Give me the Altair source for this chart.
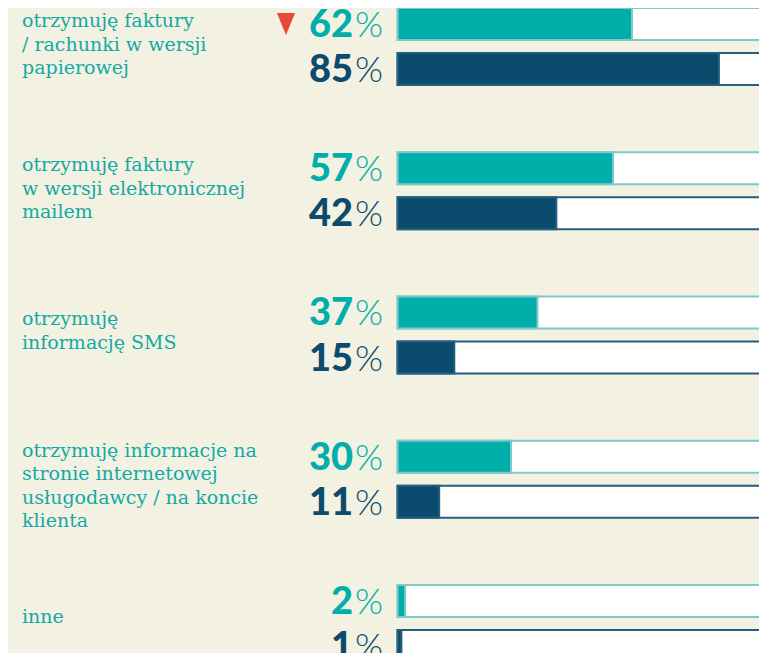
import altair as alt
import pandas as pd

categories = [
    "otrzymuję faktury\n/ rachunki w wersji\npapierowej",
    "otrzymuję faktury\nw wersji elektronicznej\nmailem",
    "otrzymuję\ninformację SMS",
    "otrzymuję informacje na\nstronie internetowej\nusługodawcy / na koncie\nklienta",
    "inne",
]
series = ["seria 1", "seria 2"]
values_1 = [62, 57, 37, 30, 2]
values_2 = [85, 42, 15, 11, 1]
down_marker_1 = [True, False, False, False, False]

rows = []
for i, c in enumerate(categories):
    for s, vals in zip(series, [values_1, values_2]):
        rows.append({
            "cat": c, "ser": s, "val": vals[i], "full": 100,
            "num": str(vals[i]), "pct": "%",
            "down": bool(down_marker_1[i]) and s == series[0],
            "first": s == series[0],
            "nlines": c.count("\n") + 1,
        })
df = pd.DataFrame(rows)

teal = "#00aeaa"
navy = "#0b4c6e"
teal_line = "#80c9c6"
navy_line = "#245f7d"
teal_text = "#12aaa5"
navy_text = "#0d4b6c"
bg = "#f3f1e1"

yscale = alt.Scale(domain=categories, range=[0, 654], paddingInner=0.4653, paddingOuter=0)
y = alt.Y("cat:N", sort=categories, axis=None, scale=yscale)
yoff = alt.YOffset("ser:N", sort=series, scale=alt.Scale(domain=series, paddingInner=0.2889, paddingOuter=0))
xscale = alt.Scale(domain=[0, 100], range=[389.6, 767.6])
text_color = alt.Color("ser:N", scale=alt.Scale(domain=series, range=[teal, navy_text]), legend=None)

base = alt.Chart(df)

bg_bars = base.mark_bar(fill="white", strokeWidth=2, clip=True).encode(
    x=alt.X("full:Q", scale=xscale, axis=None),
    y=y, yOffset=yoff,
    stroke=alt.Stroke("ser:N", scale=alt.Scale(domain=series, range=[teal_line, navy_line]), legend=None),
)

val_bars = base.mark_bar(strokeWidth=2, clip=True).encode(
    x=alt.X("val:Q", scale=xscale, axis=None),
    y=y, yOffset=yoff,
    fill=alt.Fill("ser:N", scale=alt.Scale(domain=series, range=[teal, navy]), legend=None),
    stroke=alt.Stroke("ser:N", scale=alt.Scale(domain=series, range=[teal, navy]), legend=None),
)

num = base.mark_text(align="right", baseline="middle", font="Lato",
                     fontSize=38, fontWeight=900, dy=2).encode(
    x=alt.value(345),
    y=y, yOffset=yoff,
    text="num:N",
    color=text_color,
)

pct = base.mark_text(align="right", baseline="middle", font="Lato",
                     fontSize=36, fontWeight=300, dy=2).encode(
    x=alt.value(375),
    y=y, yOffset=yoff,
    text="pct:N",
    color=text_color,
)

# vertical shift of the first line so that each multi-line label block sits on its group
line_shift = {1: -6, 2: -16, 3: -25.5, 4: -28.5}
label_layers = []
for n, shift in line_shift.items():
    label_layers.append(
        base.transform_filter(f"datum.first && datum.nlines == {n}").mark_text(
            align="left", baseline="middle", font="DejaVu Serif", fontSize=19,
            lineBreak="\n", lineHeight=23.5, color=teal_text, dy=shift,
        ).encode(
            x=alt.value(14),
            y=y,
            text="cat:N",
        )
    )

tri = base.transform_filter("datum.down").mark_point(
    shape="M-0.82,-1L0.82,-1L0,1Z", filled=True, fill="#e8473c", strokeWidth=0,
    size=484, opacity=1, dy=-1,
).encode(
    x=alt.value(278),
    y=y, yOffset=yoff,
)

chart = alt.layer(bg_bars, val_bars, num, pct, *label_layers, tri).properties(
    width=751, height=645, background=bg, padding=0,
    autosize=alt.AutoSizeParams(type="none"),
).configure_view(stroke=None)

chart.save("out.html", embed_options={"renderer": "svg", "actions": False})
